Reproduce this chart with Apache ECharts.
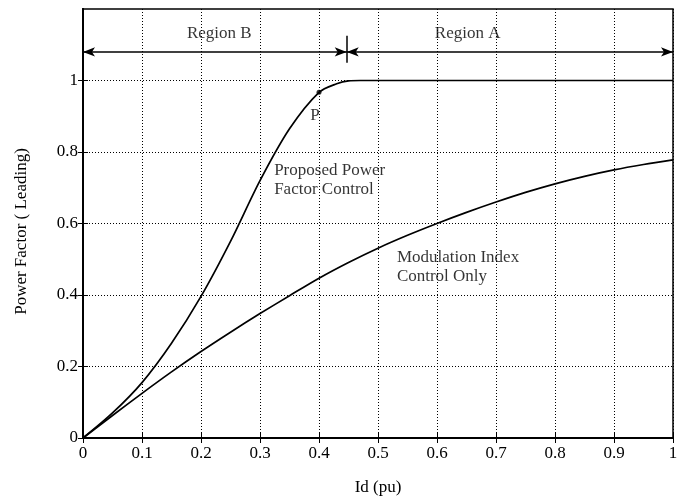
<!DOCTYPE html>
<html>
<head>
<meta charset="utf-8">
<script src="https://cdn.jsdelivr.net/npm/echarts@6/dist/echarts.min.js"></script>
<style>html,body{margin:0;padding:0;background:#fff}#c{width:684px;height:501px}</style>
</head>
<body>
<div id="c"></div>
<script>
// Data
var proposedX = [0, 0.05, 0.1, 0.15, 0.2, 0.25, 0.3, 0.35, 0.4, 0.43, 0.45, 0.47, 0.5, 0.6, 0.7, 0.8, 0.9, 1.0];
var proposedY = [0, 0.07, 0.155, 0.265, 0.396, 0.55, 0.72, 0.865, 0.967, 0.991, 0.999, 1.0, 1.0, 1.0, 1.0, 1.0, 1.0, 1.0];
var modX = [0, 0.05, 0.1, 0.15, 0.2, 0.25, 0.3, 0.35, 0.4, 0.45, 0.5, 0.55, 0.6, 0.65, 0.7, 0.75, 0.8, 0.85, 0.9, 0.95, 1.0];
var modY = [0, 0.063, 0.125, 0.185, 0.242, 0.296, 0.348, 0.398, 0.447, 0.491, 0.531, 0.567, 0.6, 0.631, 0.66, 0.687, 0.711, 0.732, 0.75, 0.765, 0.778];
var pointP = [0.4, 0.967];
var regionY = 1.08;
var regionSplit = 0.447;
var xTicks = [0, 0.1, 0.2, 0.3, 0.4, 0.5, 0.6, 0.7, 0.8, 0.9, 1];
var yTicks = [0, 0.2, 0.4, 0.6, 0.8, 1];

var FONT = 'Liberation Serif';
var FS = 17;
function zip(a, b) { return a.map(function (v, i) { return [v, b[i]]; }); }

var chart = echarts.init(document.getElementById('c'), null, {renderer: 'canvas'});

function note(x, y, text, align, vAlign) {
  return {
    type: 'scatter', symbolSize: 0, silent: true, z: 5,
    data: [[x, y]],
    label: {show: true, position: [0, 0], align: align, verticalAlign: vAlign,
      formatter: text, color: '#000', fontFamily: FONT, fontSize: FS, lineHeight: 19}
  };
}

var option = {
  backgroundColor: '#fff',
  animation: false,
  grid: {left: 83, right: 11, top: 9, bottom: 62, show: true, borderColor: '#000', borderWidth: 1.5, backgroundColor: '#fff'},
  xAxis: [{
    type: 'value', min: 0, max: 1, interval: 0.1,
    name: 'Id (pu)', nameLocation: 'middle', nameGap: 41,
    nameTextStyle: {color: '#000', fontFamily: FONT, fontSize: FS},
    axisLine: {show: true, onZero: false, lineStyle: {color: '#000', width: 2}},
    axisTick: {show: true, inside: true, length: 5, lineStyle: {color: '#000'}},
    axisLabel: {color: '#000', fontFamily: FONT, fontSize: FS, margin: 7,
      formatter: function (v) { var r = Math.round(v * 10) / 10; return xTicks.indexOf(r) >= 0 ? String(r) : ''; }},
    splitLine: {show: true, lineStyle: {color: '#000', type: [1, 2], width: 1}}
  }, {
    type: 'value', min: 0, max: 1, interval: 0.1, position: 'top',
    axisLine: {show: true, lineStyle: {color: '#000', width: 1.5}},
    axisTick: {show: true, inside: true, length: 5, lineStyle: {color: '#000'}},
    axisLabel: {show: false}, splitLine: {show: false}
  }],
  yAxis: [{
    type: 'value', min: 0, max: 1.2, interval: 0.2,
    name: 'Power Factor ( Leading)', nameLocation: 'middle', nameGap: 53,
    nameTextStyle: {color: '#000', fontFamily: FONT, fontSize: FS, padding: [0, 16, 0, 0]},
    axisLine: {show: true, onZero: false, lineStyle: {color: '#000', width: 2}},
    axisTick: {show: true, inside: true, length: 5, customValues: yTicks, lineStyle: {color: '#000'}},
    axisLabel: {color: '#000', fontFamily: FONT, fontSize: FS, margin: 5, customValues: yTicks,
      formatter: function (v) { return String(Math.round(v * 10) / 10); }},
    splitLine: {show: true, lineStyle: {color: '#000', type: [1, 2], width: 1}}
  }, {
    type: 'value', min: 0, max: 1.2, interval: 0.2, position: 'right',
    axisLine: {show: true, lineStyle: {color: '#000', width: 2}},
    axisTick: {show: true, inside: true, length: 5, customValues: yTicks, lineStyle: {color: '#000'}},
    axisLabel: {show: false}, splitLine: {show: false}
  }],
  series: [
    {
      name: 'Proposed Power Factor Control', type: 'line', data: zip(proposedX, proposedY),
      smooth: 0.3, showSymbol: false, z: 3,
      lineStyle: {color: '#000', width: 1.7},
      markLine: {
        silent: true, animation: false,
        symbol: ['arrow', 'arrow'], symbolSize: [7, 12],
        lineStyle: {color: '#000', width: 1.5, type: 'solid'},
        label: {show: false},
        data: [
          [{coord: [0, regionY]}, {coord: [regionSplit, regionY]}],
          [{coord: [regionSplit, regionY]}, {coord: [1, regionY]}],
          [{coord: [regionSplit, regionY - 0.03], symbol: 'none'}, {coord: [regionSplit, regionY + 0.045], symbol: 'none'}]
        ]
      }
    },
    {
      name: 'Modulation Index Control Only', type: 'line', data: zip(modX, modY),
      smooth: 0.3, showSymbol: false, z: 3,
      lineStyle: {color: '#000', width: 1.7}
    },
    {
      name: 'P', type: 'scatter', data: [pointP], symbol: 'circle', symbolSize: 5, z: 4,
      itemStyle: {color: '#000'}
    },
    note(0.393, 0.903, 'P', 'center', 'middle'),
    note(0.324, 0.776, 'Proposed Power\nFactor Control', 'left', 'top'),
    note(0.532, 0.531, 'Modulation Index\nControl Only', 'left', 'top'),
    note(0.231, 1.131, 'Region B', 'center', 'middle'),
    note(0.652, 1.131, 'Region A', 'center', 'middle')
  ]
};
chart.setOption(option);
</script>
</body>
</html>
